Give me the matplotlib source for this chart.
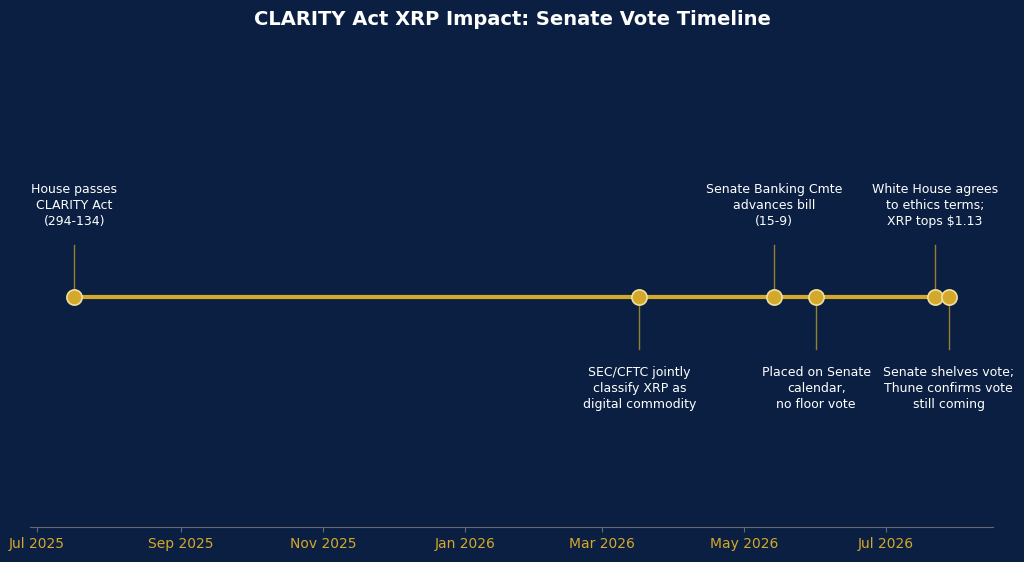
import matplotlib
matplotlib.use("Agg")
import matplotlib.pyplot as plt
import matplotlib.dates as mdates
import datetime as dt

dates = ["2025-07-17", "2026-03-17", "2026-05-14", "2026-06-01", "2026-07-22", "2026-07-28"]
labels = ["House passes\nCLARITY Act\n(294-134)",
          "SEC/CFTC jointly\nclassify XRP as\ndigital commodity",
          "Senate Banking Cmte\nadvances bill\n(15-9)",
          "Placed on Senate\ncalendar,\nno floor vote",
          "White House agrees\nto ethics terms;\nXRP tops $1.13",
          "Senate shelves vote;\nThune confirms vote\nstill coming"]
sides = [1, -1, 1, -1, 1, -1]
ticks = ["2025-07-01", "2025-09-01", "2025-11-01", "2026-01-01", "2026-03-01", "2026-05-01", "2026-07-01"]
tick_labels = ["Jul 2025", "Sep 2025", "Nov 2025", "Jan 2026", "Mar 2026", "May 2026", "Jul 2026"]

bg = "#0b1f42"
gold = "#d4a82a"
d = [dt.datetime.strptime(s, "%Y-%m-%d") for s in dates]

fig = plt.figure(figsize=(10.24, 5.62), dpi=100, facecolor=bg)
ax = fig.add_axes([30/1024, 35/562, 963/1024, 460/562], facecolor=bg)
ax.set_xlim(dt.datetime(2025, 6, 28), dt.datetime(2026, 8, 16))
ax.set_ylim(-1, 1)
ax.plot(d, [0]*len(d), color=gold, lw=3, zorder=2)
for x, lab, s in zip(d, labels, sides):
    ax.plot([x, x], [0, 0.226*s], color=gold, lw=1, alpha=0.7, zorder=1)
    ax.text(x, 0.3*s if s > 0 else -0.3, lab, ha="center", va="bottom" if s > 0 else "top",
            color="white", fontsize=9, linespacing=1.3)
ax.scatter(d, [0]*len(d), s=120, color=gold, edgecolor="#f0e0a0", lw=1.2, zorder=3)
ax.set_xticks([dt.datetime.strptime(t, "%Y-%m-%d") for t in ticks])
ax.set_xticklabels(tick_labels, color=gold, fontsize=10)
ax.tick_params(axis="x", colors="#666a70", labelcolor=gold)
ax.set_yticks([])
for sp in ["top", "left", "right"]:
    ax.spines[sp].set_visible(False)
ax.spines["bottom"].set_color("#666a70")
fig.text(0.5, 0.965, "CLARITY Act XRP Impact: Senate Vote Timeline", ha="center", va="center",
         color="white", fontsize=14, fontweight="bold")
fig.savefig("out.png", dpi=100, facecolor=bg)
